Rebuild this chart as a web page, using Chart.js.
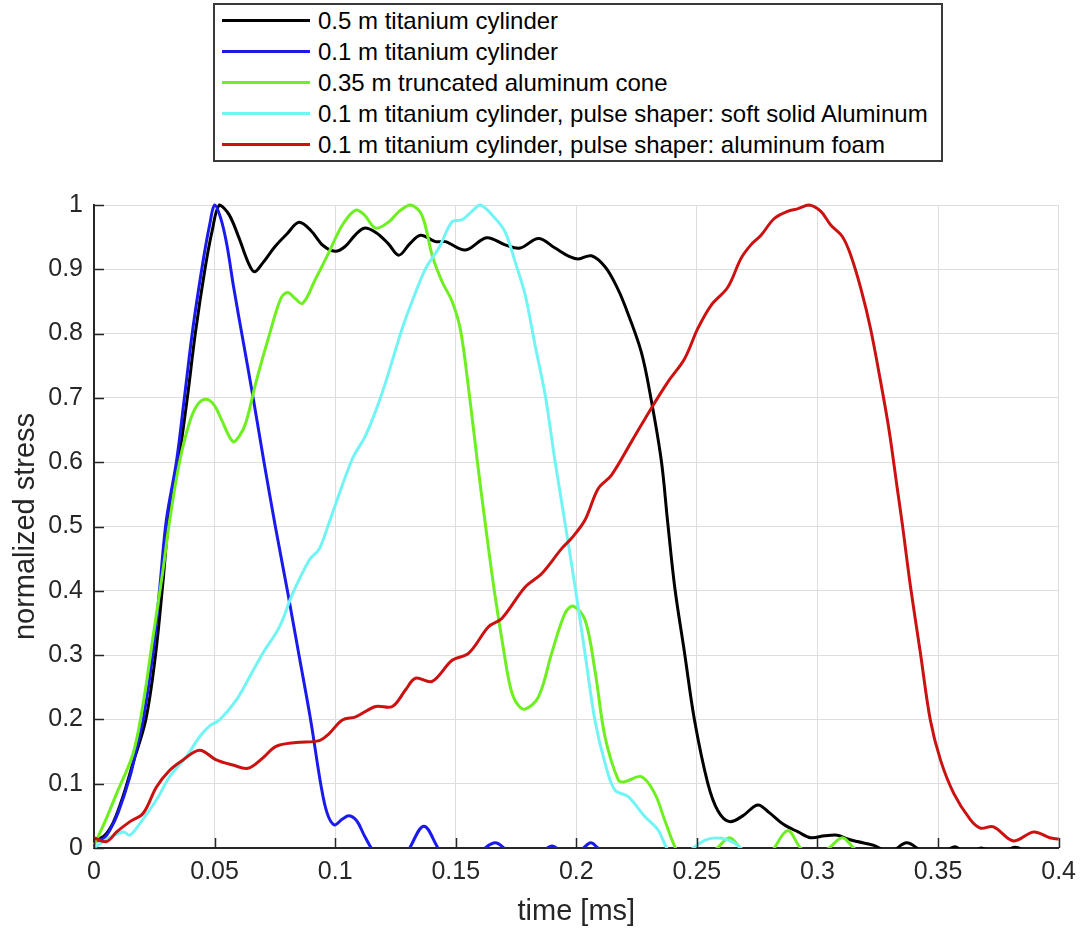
<!DOCTYPE html>
<html>
<head>
<meta charset="utf-8">
<script src="https://cdn.jsdelivr.net/npm/chart.js@4.4.1/dist/chart.umd.min.js"></script>
<style>
  html, body { margin: 0; padding: 0; background: #fff; }
  #wrap { position: relative; width: 1085px; height: 930px; }
  #legend { position: absolute; left: 213px; top: 3px; width: 730px; height: 159px; box-sizing: border-box;
    border: 2px solid #3a3a3a; background: #fff; padding: 0 0 0 7px; font-family: "Liberation Sans", Arial, sans-serif;
    font-size: 24px; color: #000; }
  .row { height: 31px; display: flex; align-items: center; white-space: nowrap; }
  .swatch { width: 88px; height: 3px; margin-right: 8px; flex: none; }
</style>
</head>
<body>
<div id="wrap">
  <canvas id="c" width="1085" height="930"></canvas>
  <div id="legend"></div>
</div>
<script>
const seriesLabels = [
  '0.5 m titanium cylinder',
  '0.1 m titanium cylinder',
  '0.35 m truncated aluminum cone',
  '0.1 m titanium cylinder, pulse shaper: soft solid Aluminum',
  '0.1 m titanium cylinder, pulse shaper: aluminum foam'
];
const seriesColors = ['#000000', '#1a1aee', '#6ef020', '#72f4f4', '#cc1111'];
const xTickLabels = ['0','0.05','0.1','0.15','0.2','0.25','0.3','0.35','0.4'];
const yTickLabels = ['0','0.1','0.2','0.3','0.4','0.5','0.6','0.7','0.8','0.9','1'];

// 0.5 m titanium cylinder
const blackT = [0,0.004,0.008,0.012,0.016,0.0215,0.0255,0.0285,0.031,0.035,0.0387,0.042,0.046,0.049,0.052,0.056,0.06,0.064,0.0665,0.07,0.075,0.08,0.085,0.09,0.095,0.1,0.104,0.108,0.112,0.117,0.122,0.1264,0.131,0.1354,0.1416,0.1457,0.154,0.1628,0.1705,0.1767,0.1843,0.1912,0.197,0.2008,0.2063,0.2119,0.2165,0.2201,0.2269,0.2312,0.2353,0.2378,0.2408,0.2449,0.249,0.2545,0.2587,0.2635,0.269,0.2752,0.28,0.2862,0.292,0.2972,0.303,0.3083,0.3125,0.3165,0.3234,0.33,0.337,0.343,0.35,0.357,0.362,0.368,0.374,0.382,0.39,0.4];
const blackY = [0.012,0.018,0.04,0.08,0.13,0.2,0.3,0.41,0.51,0.6,0.7,0.8,0.9,0.96,1.0,0.985,0.95,0.91,0.896,0.91,0.935,0.955,0.973,0.96,0.937,0.928,0.935,0.952,0.964,0.957,0.94,0.922,0.94,0.953,0.943,0.943,0.93,0.949,0.938,0.933,0.948,0.933,0.92,0.916,0.921,0.904,0.875,0.844,0.772,0.694,0.601,0.51,0.406,0.303,0.199,0.101,0.058,0.041,0.05,0.067,0.055,0.036,0.025,0.016,0.019,0.02,0.014,0.01,0.004,-0.006,0.008,-0.004,-0.012,0.002,-0.01,0.0,-0.012,0.001,-0.012,-0.01];

// 0.1 m titanium cylinder
const blueT = [0,0.004,0.0066,0.01,0.0149,0.018,0.0204,0.0245,0.0273,0.03,0.0342,0.0376,0.041,0.0452,0.048,0.05,0.0525,0.055,0.058,0.062,0.066,0.0705,0.0752,0.0802,0.085,0.0898,0.094,0.0966,0.0996,0.103,0.1058,0.109,0.112,0.1154,0.12,0.126,0.1306,0.1368,0.143,0.148,0.155,0.161,0.1664,0.171,0.178,0.186,0.19,0.194,0.2,0.203,0.206,0.209,0.215,0.225,0.4];
const blueY = [0.01,0.015,0.028,0.055,0.111,0.16,0.199,0.303,0.406,0.51,0.601,0.704,0.808,0.912,0.97,1.0,0.98,0.94,0.87,0.785,0.7,0.6,0.5,0.4,0.3,0.2,0.1,0.055,0.036,0.045,0.05,0.042,0.02,-0.003,-0.03,-0.03,-0.002,0.034,-0.002,-0.025,-0.02,-0.003,0.008,-0.003,-0.02,-0.005,0.003,-0.005,-0.01,0.0,0.008,0.0,-0.015,-0.02,-0.02];

// 0.35 m truncated aluminum cone
const greenT = [0,0.001,0.005,0.0094,0.0162,0.0204,0.0245,0.0286,0.0314,0.0355,0.0397,0.043,0.0466,0.05,0.053,0.0576,0.0605,0.0631,0.0672,0.0727,0.0775,0.0803,0.083,0.0865,0.092,0.0975,0.103,0.1085,0.112,0.1168,0.1223,0.1265,0.1313,0.136,0.1402,0.1443,0.1485,0.152,0.1558,0.159,0.1624,0.166,0.1702,0.1728,0.1755,0.1788,0.1843,0.1898,0.1953,0.1988,0.2036,0.2077,0.2119,0.2174,0.2201,0.227,0.2325,0.2366,0.2415,0.246,0.252,0.2585,0.2635,0.268,0.274,0.28,0.2876,0.293,0.299,0.3048,0.3103,0.315,0.32,0.4];
const greenY = [0.005,0.012,0.045,0.085,0.147,0.225,0.329,0.432,0.51,0.601,0.663,0.69,0.698,0.688,0.665,0.632,0.642,0.663,0.725,0.798,0.855,0.864,0.856,0.847,0.886,0.927,0.969,0.992,0.985,0.964,0.974,0.99,1.0,0.984,0.922,0.881,0.85,0.805,0.7,0.6,0.5,0.4,0.3,0.248,0.224,0.216,0.235,0.303,0.365,0.376,0.355,0.277,0.173,0.106,0.103,0.111,0.085,0.044,-0.003,-0.025,-0.02,0.0,0.016,0.0,-0.02,-0.01,0.027,0.0,-0.015,0.0,0.016,0.0,-0.015,-0.02];

// 0.1 m titanium cylinder, pulse shaper: soft solid Aluminum
const cyanT = [0,0.003,0.0066,0.0121,0.0149,0.019,0.0259,0.0314,0.0383,0.0438,0.048,0.052,0.059,0.0645,0.07,0.0769,0.0824,0.0893,0.0934,0.0975,0.1071,0.1127,0.1195,0.1278,0.1319,0.1375,0.143,0.1485,0.1526,0.1567,0.1602,0.1664,0.1705,0.1746,0.1788,0.1829,0.1871,0.1912,0.1953,0.1995,0.2036,0.2077,0.2119,0.216,0.2215,0.2284,0.2339,0.238,0.243,0.2485,0.254,0.26,0.2655,0.27,0.28,0.4];
const cyanY = [0.0,0.008,0.016,0.025,0.02,0.038,0.075,0.111,0.142,0.173,0.19,0.199,0.23,0.266,0.303,0.344,0.396,0.448,0.465,0.506,0.605,0.642,0.708,0.808,0.85,0.901,0.933,0.974,0.977,0.99,1.0,0.979,0.958,0.912,0.86,0.782,0.704,0.601,0.506,0.406,0.303,0.199,0.132,0.09,0.08,0.049,0.028,-0.003,-0.02,0.0,0.013,0.015,0.008,-0.005,-0.02,-0.02];

// 0.1 m titanium cylinder, pulse shaper: aluminum foam
const redT = [0,0.0052,0.0094,0.0149,0.0204,0.0259,0.0314,0.0369,0.0438,0.0507,0.0576,0.0638,0.07,0.0755,0.0838,0.0934,0.0975,0.103,0.1085,0.1168,0.1237,0.1292,0.1333,0.1402,0.1485,0.1554,0.1636,0.1691,0.1788,0.1857,0.194,0.1981,0.2036,0.2091,0.2146,0.2229,0.2311,0.238,0.2449,0.2504,0.2559,0.2628,0.2683,0.2724,0.2766,0.2821,0.2876,0.2917,0.2965,0.3014,0.3055,0.3103,0.3138,0.318,0.322,0.3262,0.3296,0.3331,0.3351,0.3386,0.3427,0.3468,0.351,0.3565,0.3634,0.3675,0.373,0.3813,0.3896,0.3963,0.4];
const redY = [0.016,0.01,0.025,0.041,0.054,0.095,0.121,0.137,0.152,0.137,0.129,0.124,0.14,0.158,0.164,0.167,0.178,0.199,0.204,0.22,0.22,0.246,0.264,0.259,0.292,0.303,0.344,0.357,0.406,0.427,0.466,0.482,0.51,0.559,0.58,0.632,0.684,0.725,0.761,0.808,0.844,0.872,0.917,0.938,0.953,0.979,0.99,0.994,1.0,0.99,0.969,0.951,0.922,0.87,0.808,0.725,0.652,0.559,0.506,0.406,0.303,0.199,0.137,0.085,0.044,0.031,0.033,0.011,0.025,0.016,0.014];

const seriesT = [blackT, blueT, greenT, cyanT, redT];
const seriesY = [blackY, blueY, greenY, cyanY, redY];

function pairs(ts, ys) { return ts.map((t, i) => ({ x: t, y: ys[i] })); }

const datasets = seriesLabels.map((lab, i) => ({
  label: lab,
  data: pairs(seriesT[i], seriesY[i]),
  borderColor: seriesColors[i],
  backgroundColor: seriesColors[i],
  borderWidth: 3,
  pointRadius: 0,
  tension: 0.35,
  fill: false,
  order: 5 - i,
  clip: { left: 2, top: 2, right: 2, bottom: 0 }
}));

// HTML legend
const legendEl = document.getElementById('legend');
seriesLabels.forEach((lab, i) => {
  const row = document.createElement('div'); row.className = 'row';
  const sw = document.createElement('span'); sw.className = 'swatch'; sw.style.background = seriesColors[i];
  const tx = document.createElement('span'); tx.textContent = lab;
  row.appendChild(sw); row.appendChild(tx); legendEl.appendChild(row);
});

const inwardTicks = {
  id: 'inwardTicks',
  afterDraw(chart) {
    const { ctx, chartArea: a, scales: { x, y } } = chart;
    ctx.save();
    ctx.strokeStyle = '#262626';
    ctx.lineWidth = 1.5;
    ctx.beginPath();
    x.ticks.forEach(t => { const px = Math.round(x.getPixelForValue(t.value)) + 0.5; ctx.moveTo(px, a.bottom); ctx.lineTo(px, a.bottom - 10); });
    y.ticks.forEach(t => { const py = Math.round(y.getPixelForValue(t.value)) + 0.5; ctx.moveTo(a.left, py); ctx.lineTo(a.left + 10, py); });
    ctx.stroke();
    ctx.restore();
  }
};

Chart.defaults.font.family = '"Liberation Sans", Arial, Helvetica, sans-serif';
Chart.defaults.color = '#262626';

new Chart(document.getElementById('c'), {
  type: 'line',
  data: { datasets },
  options: {
    responsive: false,
    animation: false,
    devicePixelRatio: 1,
    layout: { padding: { top: 205, right: 23, left: 0, bottom: 0 } },
    plugins: { legend: { display: false }, tooltip: { enabled: false } },
    scales: {
      x: {
        type: 'linear', min: 0, max: 0.4,
        afterFit: s => { s.height = 82; },
        grid: { color: '#dedede', lineWidth: 1, drawTicks: false },
        border: { display: true, color: '#262626', width: 2 },
        ticks: { stepSize: 0.05, autoSkip: false, maxRotation: 0, padding: 9,
          font: { size: 25 }, color: '#262626',
          callback: (v, i) => xTickLabels[i] },
        title: { display: true, text: 'time [ms]', font: { size: 29 }, color: '#262626', padding: { top: 0, bottom: 1 } }
      },
      y: {
        type: 'linear', min: 0, max: 1,
        afterFit: s => { s.width = 94; },
        grid: { color: '#dedede', lineWidth: 1, drawTicks: false },
        border: { display: true, color: '#262626', width: 2 },
        ticks: { stepSize: 0.1, autoSkip: false, padding: 11,
          font: { size: 25 }, color: '#262626',
          callback: (v, i) => yTickLabels[i] },
        title: { display: true, text: 'normalized stress', font: { size: 29 }, color: '#262626', padding: { top: 9, bottom: 0 } }
      }
    }
  },
  plugins: [inwardTicks]
});
</script>
</body>
</html>
